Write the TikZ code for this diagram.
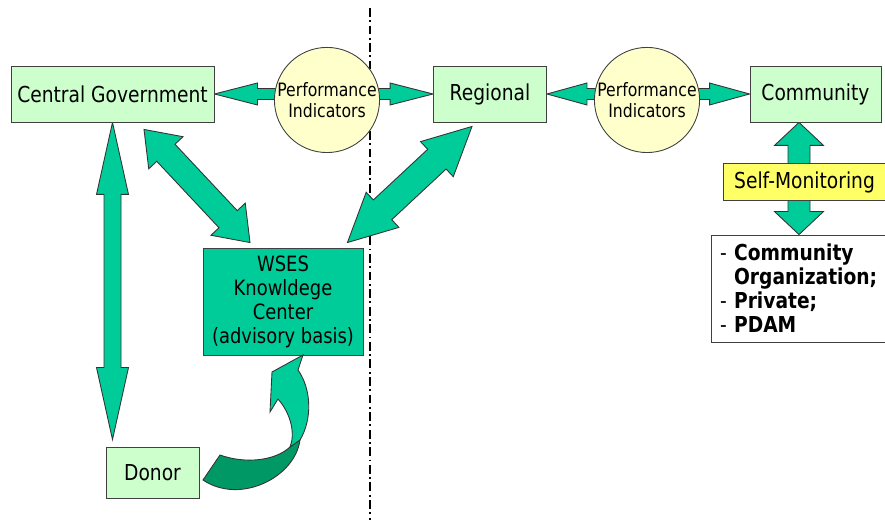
\documentclass[tikz,border=0pt]{standalone}
\usepackage{fontspec}
\setmainfont{DejaVu Sans}[FakeStretch=0.85]
\usetikzlibrary{positioning, shapes, calc, backgrounds}

\definecolor{boxgreen}{HTML}{CCFFCC}
\definecolor{piyellow}{HTML}{FFFFCC}
\definecolor{arrowgreen}{HTML}{00CC99}
\definecolor{darkgreen}{HTML}{009966}
\definecolor{monyellow}{HTML}{FFFF66}

\begin{document}
\begin{tikzpicture}[
level/.style={rectangle, draw=black!75, fill=boxgreen, line width=0.5pt, minimum height=1.12cm, align=center, font=\fontsize{12.5}{14}\selectfont},
indicator/.style={circle, draw=black!75, fill=piyellow, line width=0.5pt, minimum size=2cm, inner sep=0pt, align=center, font=\fontsize{10.5}{11.6}\selectfont},
fat/.style={fill=arrowgreen, draw=black!80, line width=0.5pt, line join=miter},
]

\tikzset{
  pics/fatarrow/.style args={#1,#2,#3,#4,#5}{
     code={
	     \draw [fat] (#1) -- ($(#1)!#5!(#2)!#4!90:(#2)$) -- ($(#1)!#5!(#2)!#3!90:(#2)$)
	       -- ($(#2)!#5!(#1)!#3!-90:(#1)$) -- ($(#2)!#5!(#1)!#4!-90:(#1)$) -- (#2)
	       -- ($(#2)!#5!(#1)!#4!90:(#1)$) -- ($(#2)!#5!(#1)!#3!90:(#1)$)
	       -- ($(#1)!#5!(#2)!#3!-90:(#2)$) -- ($(#1)!#5!(#2)!#4!-90:(#2)$) -- cycle;
     }
  }
}

\useasboundingbox (0,0) rectangle (17.7,10.4);

%Nodes
\node [level, minimum width=4.06cm] (cg) at (2.25,8.52) {Central Government};
\node [indicator] (pi1) at (6.54,8.40) {Performance\\Indicators};
\node [level, minimum width=2.26cm] (reg) at (9.80,8.52) {Regional};
\node [indicator, minimum size=2.04cm] (pi2) at (12.94,8.40) {Performance\\Indicators};
\node [level, minimum width=2.62cm] (com) at (16.31,8.52) {Community};
\node [level, fill=monyellow, minimum width=3.26cm, minimum height=0.74cm] (selfmon) at (16.09,6.76) {Self-Monitoring};
\node [rectangle, draw=black!75, fill=white, line width=0.5pt, minimum width=3.52cm, minimum height=2.14cm, inner sep=0.18cm, text width=3.16cm, align=left, font=\fontsize{12.5}{13.7}\selectfont] (orgs) at (15.98,4.63) {- \textbf{Community}\\\hphantom{- }\textbf{Organization;}\\- \textbf{Private;}\\- \textbf{PDAM}};
\node [level, fill=arrowgreen, minimum width=3.2cm, minimum height=2.14cm, font=\fontsize{12}{13.7}\selectfont] (wses) at (5.66,4.37) {WSES\\Knowldege\\Center\\(advisory basis)};
\node [level, minimum width=1.86cm, minimum height=1.02cm] (donor) at (3.05,0.95) {Donor};

\coordinate (divtop) at (7.4,10.24);
\coordinate (divbot) at (7.4,0);
\coordinate (smtop) at (com.south -| orgs.north);
\coordinate (dtop) at ($(cg.south |- donor.north)+(0,0.14)$);
\coordinate (cgd) at ($(cg.south)+(0.63,-0.14)$);
\coordinate (wsl) at ($(wses.north)+(-0.66,0.10)$);
\coordinate (regd) at ($(reg.south)+(-0.36,-0.08)$);
\coordinate (wsr) at ($(wses.north east)+(-0.32,0.10)$);

% Paths
\begin{scope}[on background layer]
\draw [line width=1.2pt, dash pattern=on 5pt off 2pt on 1pt off 2pt] (divtop) -- (divbot);
\pic {fatarrow={cg.east,reg.west,0.11cm,0.22cm,0.86cm}};
\pic {fatarrow={reg.east,com.west,0.11cm,0.22cm,0.80cm}};
\pic {fatarrow={smtop,orgs.north,0.22cm,0.49cm,0.46cm}};
\pic {fatarrow={cg.south,dtop,0.17cm,0.32cm,1.44cm}};
\pic {fatarrow={cgd,wsl,0.25cm,0.47cm,0.64cm}};
\pic {fatarrow={regd,wsr,0.27cm,0.48cm,0.96cm}};
\end{scope}

% curved arrow from donor
\draw [fat, fill=darkgreen] (4.40,1.30) .. controls (4.90,1.12) and (5.50,1.18) .. (5.80,1.46) -- (6.00,1.60) .. controls (5.90,0.85) and (4.80,0.30) .. (4.06,0.80) -- cycle;
\draw [fat] (6.06,3.30) -- (5.44,2.96) -- (5.40,2.16) -- (5.56,2.42) .. controls (5.84,2.10) and (5.90,1.70) .. (5.80,1.46) -- (6.00,1.60) .. controls (6.24,2.00) and (6.24,2.60) .. (5.96,3.00) -- cycle;
\end{tikzpicture}
\end{document}
